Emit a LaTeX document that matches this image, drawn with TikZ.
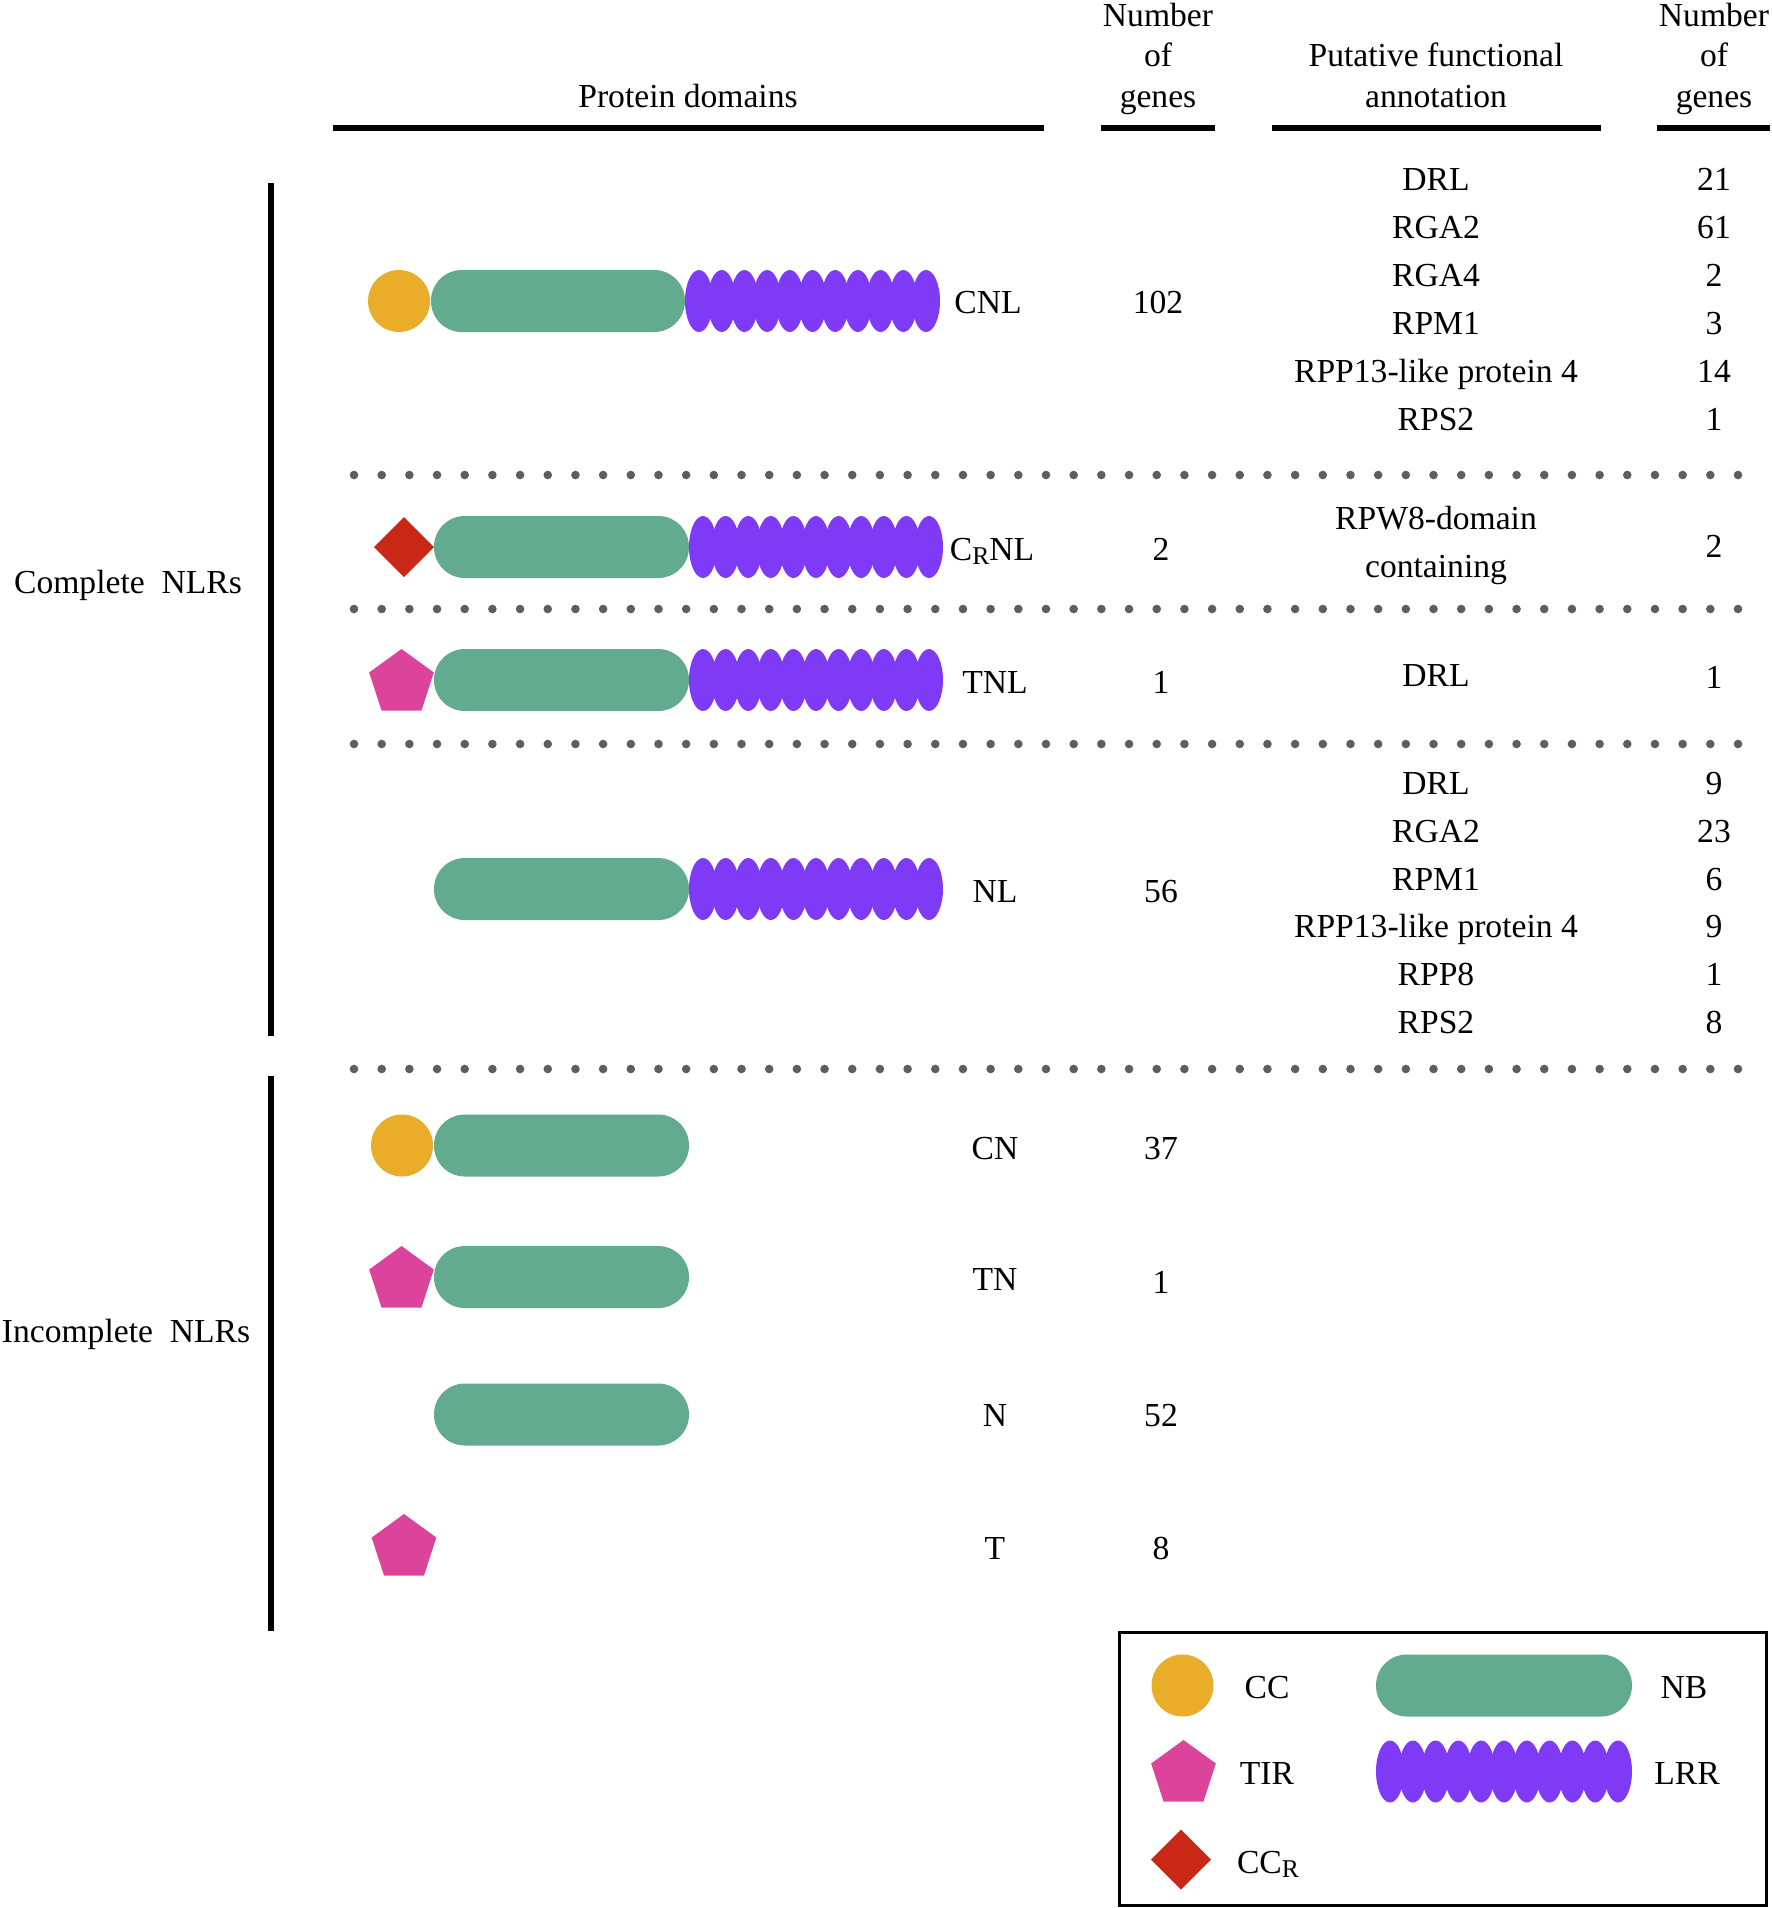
\documentclass[tikz,border=0pt]{standalone}
\usepackage{fontspec}
\setmainfont{Liberation Serif}
\definecolor{cccol}{HTML}{EAAD2A}
\definecolor{nbcol}{HTML}{62AB8E}
\definecolor{lrrcol}{HTML}{7F3AF5}
\definecolor{tircol}{HTML}{DC449C}
\definecolor{crcol}{HTML}{C92817}
\definecolor{dotcol}{HTML}{5E5E5E}
\newcommand\subR{\raisebox{-0.14em}{\fontsize{12.8pt}{13pt}\selectfont R}}
\newcommand\nbbox[3]{\fill[nbcol, rounded corners=15.4pt] (#1,#3-31) rectangle (#2,#3+31);}
\newcommand\lrrbar[3]{\foreach \k in {0,...,10}{\fill[lrrcol] ({#1+14+\k*(#2-#1-28)/10},#3) ellipse [x radius=14, y radius=31];}}
\newcommand\ccball[2]{\fill[cccol] (#1,#2) circle [radius=31];}
\newcommand\tirpent[2]{\fill[tircol] ([shift={(#1,#2)}]-90:34) -- ([shift={(#1,#2)}]-18:34) -- ([shift={(#1,#2)}]54:34) -- ([shift={(#1,#2)}]126:34) -- ([shift={(#1,#2)}]198:34) -- cycle;}
\newcommand\crdiam[2]{\fill[crcol] (#1-30,#2) -- (#1,#2-30) -- (#1+30,#2) -- (#1,#2+30) -- cycle;}
\newcommand\dotrow[1]{\foreach \k in {0,...,50}{\fill[dotcol] ({354+\k*27.68},#1) circle [radius=4.3];}}
\begin{document}
\begin{tikzpicture}[x=0.5pt,y=-0.5pt,
  every node/.style={font=\fontsize{16.8pt}{20pt}\selectfont, inner sep=0pt, anchor=base},
  rulebar/.style={line width=3pt},
  legbox/.style={line width=1.5pt}]
\useasboundingbox (0,0) rectangle (1772,1908);
% headers
\node (hpd) at (688,107) {Protein domains};
\node (hn1a) at (1158,26) {Number};
\node (hn1b) at (1158,66) {of};
\node (hn1c) at (1158,107) {genes};
\node (hpa) at (1436,66) {Putative functional};
\node (hpb) at (1436,107) {annotation};
\node (hn2a) at (1714,26) {Number};
\node (hn2b) at (1714,66) {of};
\node (hn2c) at (1714,107) {genes};
\draw[rulebar] (333,127.5) -- (1044,127.5);
\draw[rulebar] (1101,127.5) -- (1215,127.5);
\draw[rulebar] (1272,127.5) -- (1601,127.5);
\draw[rulebar] (1657,127.5) -- (1770,127.5);
% group bars
\draw[rulebar] (271,183) -- (271,1036);
\draw[rulebar] (271,1076) -- (271,1631);
\node (gc) at (128,593) {Complete\ \ NLRs};
\node (gi) at (126,1342) {Incomplete\ \ NLRs};
% dotted separators
\dotrow{475}
\dotrow{609}
\dotrow{744}
\dotrow{1069}
% CNL
\ccball{399}{301}
\nbbox{431}{685}{301}
\lrrbar{685}{940}{301}
\node (lcnl) at (988,313) {CNL};
\node (ncnl) at (1158,313) {102};
\node (a1) at (1436,190) {DRL};      \node (c1) at (1714,190) {21};
\node (a2) at (1436,238) {RGA2};     \node (c2) at (1714,238) {61};
\node (a3) at (1436,286) {RGA4};     \node (c3) at (1714,286) {2};
\node (a4) at (1436,334) {RPM1};     \node (c4) at (1714,334) {3};
\node (a5) at (1436,382) {RPP13-like protein 4}; \node (c5) at (1714,382) {14};
\node (a6) at (1436,430) {RPS2};     \node (c6) at (1714,430) {1};
% CRNL
\crdiam{404}{547}
\nbbox{434}{689}{547}
\lrrbar{689}{943}{547}
\node (lcrnl) at (992,560) {C\subR NL};
\node (ncrnl) at (1161,560) {2};
\node (b1) at (1436,529) {RPW8-domain};
\node (b2) at (1436,577) {containing};
\node (cb) at (1714,557) {2};
% TNL
\tirpent{401.5}{683}
\nbbox{434}{689}{680}
\lrrbar{689}{943}{680}
\node (ltnl) at (995,693) {TNL};
\node (ntnl) at (1161,693) {1};
\node (t1) at (1436,686) {DRL};
\node (ct) at (1714,688) {1};
% NL
\nbbox{434}{689}{889}
\lrrbar{689}{943}{889}
\node (lnl) at (995,902) {NL};
\node (nnl) at (1161,902) {56};
\node (d1) at (1436,794) {DRL};      \node (e1) at (1714,794) {9};
\node (d2) at (1436,842) {RGA2};     \node (e2) at (1714,842) {23};
\node (d3) at (1436,890) {RPM1};     \node (e3) at (1714,890) {6};
\node (d4) at (1436,937) {RPP13-like protein 4}; \node (e4) at (1714,937) {9};
\node (d5) at (1436,985) {RPP8};     \node (e5) at (1714,985) {1};
\node (d6) at (1436,1033) {RPS2};    \node (e6) at (1714,1033) {8};
% CN
\ccball{402}{1145.5}
\nbbox{434}{689}{1145.5}
\node (lcn) at (995,1159) {CN};
\node (ncn) at (1161,1159) {37};
% TN
\tirpent{401.5}{1280}
\nbbox{434}{689}{1277}
\node (ltn) at (995,1290) {TN};
\node (ntn) at (1161,1293) {1};
% N
\nbbox{434}{689}{1414.5}
\node (ln) at (995,1426) {N};
\node (nn) at (1161,1426) {52};
% T
\tirpent{404}{1548}
\node (lt) at (995,1559) {T};
\node (nt) at (1161,1559) {8};
% legend
\draw[legbox] (1119,1632) rectangle (1766,1905);
\ccball{1182.5}{1685.5}
\node (lgcc) at (1267,1698) {CC};
\tirpent{1183.5}{1774}
\node (lgtir) at (1267,1784) {TIR};
\crdiam{1181}{1859.5}
\node (lgccr) at (1268,1873) {CC\subR};
\nbbox{1376}{1632}{1685.5}
\node (lgnb) at (1684,1698) {NB};
\lrrbar{1376}{1632}{1771.5}
\node (lglrr) at (1687,1784) {LRR};
\end{tikzpicture}
\end{document}
